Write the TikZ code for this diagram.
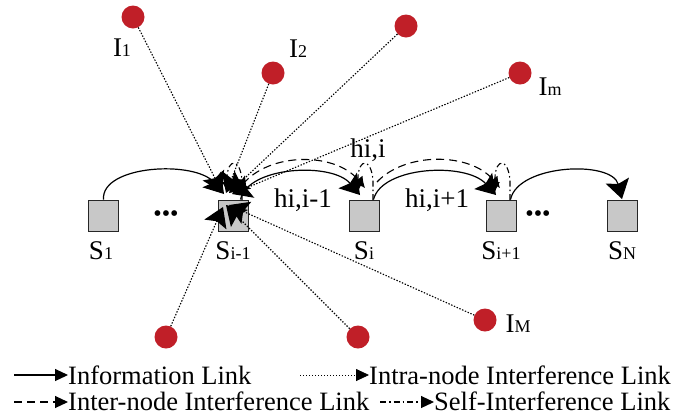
\documentclass[tikz,border=0pt]{standalone}
\usepackage{fontspec}
\setmainfont{Liberation Serif}
\usetikzlibrary{arrows.meta,calc}
\definecolor{ired}{HTML}{C01F28}
\definecolor{boxgray}{HTML}{C8C8C8}
\newcommand\smtx[1]{{\fontsize{18}{20}\selectfont #1}}
\begin{document}
\begin{tikzpicture}[x=1pt,y=-1pt,
  sbox/.style={draw=black!85,fill=boxgray,line width=1pt,minimum width=30pt,minimum height=31pt,inner sep=0pt},
  intf/.style={circle,fill=ired,minimum size=23pt,inner sep=0pt},
  lbl/.style={font=\fontsize{27}{30}\selectfont,inner sep=0pt,anchor=base},
  lgd/.style={font=\fontsize{26.5}{30}\selectfont,inner sep=0pt,anchor=base west},
  dots/.style={font=\fontsize{24}{26}\selectfont,inner sep=0pt},
  bigtip/.style={-{Stealth[length=19pt,width=24pt,inset=3.5pt]}},
  info/.style={line width=1.2pt,bigtip},
  intra/.style={line width=1.1pt,dash pattern=on 1.4pt off 1.6pt,bigtip},
  inter/.style={line width=1.1pt,dash pattern=on 8pt off 5pt,-{Latex[length=11pt,width=12pt]}},
  selfi/.style={line width=1.1pt,dash pattern=on 6pt off 3pt on 1.5pt off 3pt,-{Latex[length=10pt,width=10pt]}},
  ltip/.style={-{Triangle[length=13pt,width=12pt]}},
]
\useasboundingbox (0,0) rectangle (692,416);

% sensor boxes
\node[sbox] (s1)   at (103.5,215.5) {};
\node[sbox] (sim1) at (233,215.5) {};
\node[sbox] (si)   at (364,215.5) {};
\node[sbox] (sip1) at (501,215.5) {};
\node[sbox] (sn)   at (622,215.5) {};

\node[lbl] (ls1)   at (101,259) {S\smtx{1}};
\node[lbl] (lsim1) at (233,259) {S\smtx{i-1}};
\node[lbl] (lsi)   at (364,259) {S\smtx{i}};
\node[lbl] (lsip1) at (501,259) {S\smtx{i+1}};
\node[lbl] (lsn)   at (622,259) {S\smtx{N}};

\node[dots] (d1) at (166,216) {•••};
\node[dots] (d2) at (538,216) {•••};

% interferers
\node[intf] (i1) at (133,17) {};
\node[intf] (i2) at (273,73) {};
\node[intf] (i3) at (406,26) {};
\node[intf] (im) at (520,73) {};
\node[intf] (b1) at (166,337) {};
\node[intf] (b2) at (358,337) {};
\node[intf] (iM) at (485,320) {};

\node[lbl] (li1) at (122,56) {I\smtx{1}};
\node[lbl] (li2) at (298,57) {I\smtx{2}};
\node[lbl] (lim) at (550,95) {I\smtx{m}};
\node[lbl] (liM) at (518,332) {I\smtx{M}};

% channel labels
\node[lbl] (h1) at (368,157) {hi,i};
\node[lbl] (h2) at (303,207) {hi,i-1};
\node[lbl] (h3) at (437,207) {hi,i+1};

% endpoints at S_{i-1}
\coordinate (t1) at (222,192);
\coordinate (t2) at (226,193);
\coordinate (t3) at (229,193);
\coordinate (t4) at (232,194);
\coordinate (u1) at (223,207);
\coordinate (u2) at (226,205);
\coordinate (u3) at (229,205);

% intra-node interference
\draw[intra] (i1) -- (t1);
\draw[intra] (i2) -- (t2);
\draw[intra] (i3) -- (t3);
\draw[intra] (im) -- (t4);
\draw[intra] (b1) -- (u1);
\draw[intra] (b2) -- (u2);
\draw[intra] (iM) -- (u3);

% self-interference loops
\draw[selfi] (242,200) -- (242,180) .. controls (240,158) and (228,158) .. (227,177) -- (227,192);
\draw[selfi] (373,200) -- (373,180) .. controls (371,158) and (359,158) .. (358,177) -- (358,192);
\draw[selfi] (510,200) -- (510,180) .. controls (508,158) and (496,158) .. (495,177) -- (495,192);

% inter-node interference
\draw[inter] (243,184) .. controls (270,152) and (335,152) .. (365,188);
\draw[inter] (377,182) .. controls (405,152) and (470,152) .. (500,188);

% information links
\draw[info] (s1.north) .. controls (101,165) and (195,160) .. (224,194);
\draw[info] (sim1.north east) ++(-8,0) .. controls (248,166) and (332,162) .. (360,195);
\draw[info] (si.north east) ++(-6,0) .. controls (382,166) and (466,162) .. (496,195);
\draw[info] (sip1.north east) ++(-6,0) .. controls (518,164) and (612,160) .. (622,199);

% legend
\coordinate (la1) at (14,375);  \coordinate (lb1) at (68,375);
\coordinate (la2) at (300,375); \coordinate (lb2) at (369,375);
\coordinate (la3) at (14,402);  \coordinate (lb3) at (68,402);
\coordinate (la4) at (380,402); \coordinate (lb4) at (434,402);
\draw[info,ltip] (la1) -- (lb1);
\draw[intra,line width=0.8pt,ltip] (la2) -- (lb2);
\draw[inter,ltip] (la3) -- (lb3);
\draw[selfi,ltip] (la4) -- (lb4);
\node[lgd] (t1l) at (68,384) {Information Link};
\node[lgd] (t2l) at (369,384) {Intra-node Interference Link};
\node[lgd] (t3l) at (68,410) {Inter-node Interference Link};
\node[lgd] (t4l) at (434,410) {Self-Interference Link};
\end{tikzpicture}
\end{document}
